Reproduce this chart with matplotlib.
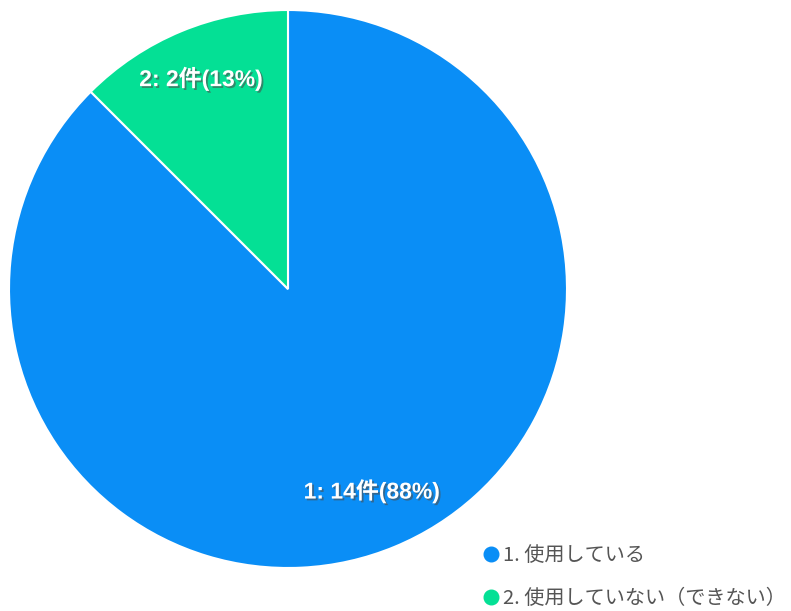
import matplotlib
matplotlib.use("Agg")
import matplotlib.pyplot as plt
import matplotlib.patheffects as pe
from matplotlib.lines import Line2D
import numpy as np

# data
categories = ["1. 使用している", "2. 使用していない（できない）"]
counts = [14, 2]
colors = ["#0a8ef6", "#04e095"]

W, H = 791, 611
fig = plt.figure(figsize=(W / 100, H / 100), dpi=100)

# pie placed by pixel box
px_left, px_top, px_size = 9, 10, 558
ax = fig.add_axes([px_left / W, (H - px_top - px_size) / H, px_size / W, px_size / H])

total = sum(counts)
wedges, _ = ax.pie(counts, colors=colors, startangle=90, counterclock=False,
                   radius=1.0, wedgeprops=dict(edgecolor="white", linewidth=1.5))
ax.set_xlim(-1, 1)
ax.set_ylim(-1, 1)
ax.set_aspect("equal")
ax.axis("off")

# slice labels
ang = 90.0
for i, (w, v) in enumerate(zip(wedges, counts)):
    span = 360.0 * v / total
    mid = np.deg2rad(ang - span / 2)
    ang -= span
    pct = int(100.0 * v / total + 0.5)
    d = 0.785 if i == 0 else 0.815
    ax.text(d * np.cos(mid), d * np.sin(mid), f"{i + 1}: {v}件({pct}%)",
            ha="center", va="center", color="white", fontsize=16.5, fontweight="bold",
            family=["Liberation Sans", "Noto Sans CJK JP"],
            path_effects=[pe.SimplePatchShadow(offset=(1.3, -1.3), alpha=0.6), pe.Normal()])

# legend
handles = [Line2D([], [], marker="o", linestyle="none", markersize=10.5,
                  markerfacecolor=c, markeredgecolor=c) for c in colors]
fig.legend(handles, categories, loc="upper left", bbox_to_anchor=(481 / W, 1 - 545 / H),
           frameon=False, handletextpad=0.1, handlelength=1.0, labelspacing=1.1,
           prop={"family": ["Noto Sans CJK JP", "DejaVu Sans"], "size": 14.5},
           labelcolor="#555555", borderaxespad=0, borderpad=0)

fig.savefig("out.png", dpi=100, facecolor="white")
